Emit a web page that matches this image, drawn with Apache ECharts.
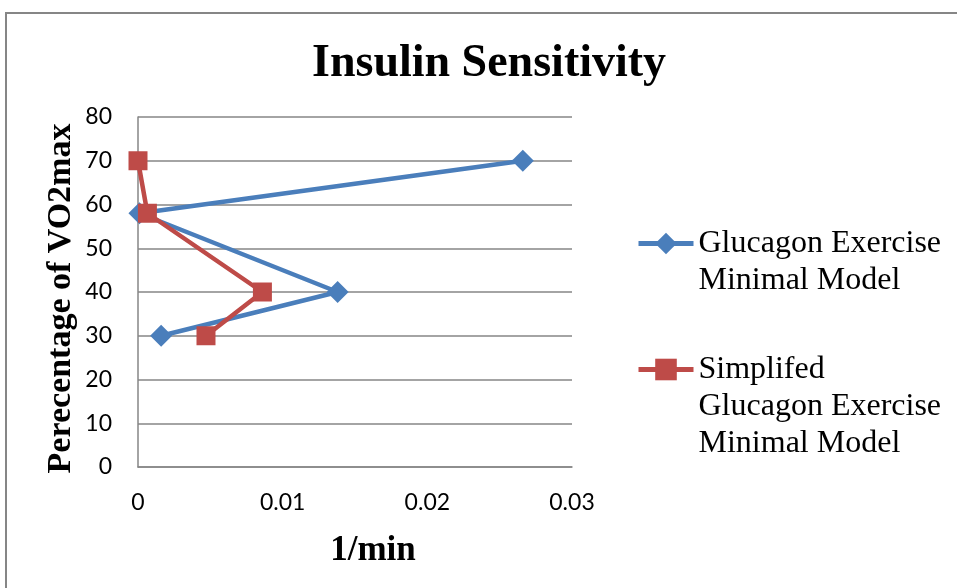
<!DOCTYPE html>
<html>
<head>
<meta charset="utf-8">
<script src="https://cdn.jsdelivr.net/npm/echarts@6/dist/echarts.min.js"></script>
<style>
  html, body { margin: 0; padding: 0; background: #ffffff; }
  #chart { width: 957px; height: 588px; }
</style>
</head>
<body>
<div id="chart"></div>
<script>
// Percentage of VO2max levels (y) and insulin sensitivity in 1/min (x)
const vo2Levels = [70, 58, 40, 30];
const fullModel = [0.0266, 0.0001, 0.0138, 0.0016];
const simplifiedModel = [0.0, 0.00065, 0.0086, 0.0047];

const seriesNames = [
  'Glucagon Exercise Minimal Model',
  'Simplifed Glucagon Exercise Minimal Model'
];
// Legend wording, one entry per text line
const legendLines = [
  ['Glucagon Exercise', 'Minimal Model'],
  ['Simplifed', 'Glucagon Exercise', 'Minimal Model']
];
const xTicks = { min: 0, max: 0.03, step: 0.01 };
const yTicks = { min: 0, max: 80, step: 10 };

const pairs = (xs, ys) => xs.map((x, i) => [x, ys[i]]);

const serif = '"Liberation Serif", "DejaVu Serif", serif';
const sans = 'Lato, "Open Sans", sans-serif';
const gray = '#868686';
const blue = '#4A7EBB';
const red = '#BE4B48';

const chart = echarts.init(document.getElementById('chart'), null, { renderer: 'canvas' });

// The legend icon sits at the vertical middle of its label, so blank lines
// are put above the label to line the icon up with its first text line.
function legendLabel(lines) {
  return '\n'.repeat(lines.length - 1) + lines.join('\n');
}

const legendBase = {
  orient: 'vertical',
  left: 636,
  padding: 0,
  itemWidth: 55,
  itemHeight: 27,
  selectedMode: false,
  lineStyle: { width: 5 },
  textStyle: { fontFamily: serif, fontSize: 32, lineHeight: 37, color: '#000' }
};

chart.setOption({
  backgroundColor: '#ffffff',
  animation: false,
  title: {
    text: 'Insulin Sensitivity',
    left: 307,
    top: 36,
    textStyle: { fontFamily: serif, fontWeight: 'bold', fontSize: 46, color: '#000' }
  },
  graphic: [{
    type: 'polyline',
    shape: { points: [[6, 588], [6, 13], [957, 13]] },
    style: { stroke: gray, lineWidth: 2, fill: null },
    silent: true
  }],
  legend: [
    Object.assign({}, legendBase, {
      top: 188,
      data: [{ name: seriesNames[0] }],
      formatter: () => legendLabel(legendLines[0])
    }),
    Object.assign({}, legendBase, {
      top: 277,
      data: [{ name: seriesNames[1] }],
      formatter: () => legendLabel(legendLines[1])
    })
  ],
  grid: { left: 138, top: 117, right: 385, bottom: 121, containLabel: false },
  xAxis: {
    type: 'value',
    min: xTicks.min,
    max: xTicks.max,
    interval: xTicks.step,
    name: '1/min',
    nameLocation: 'middle',
    nameGap: 66,
    nameTextStyle: { fontFamily: serif, fontWeight: 'bold', fontSize: 35, color: '#000', padding: [0, 0, 0, 36] },
    axisLine: { lineStyle: { color: gray, width: 1.5 } },
    axisTick: { show: false },
    splitLine: { show: false },
    axisLabel: { fontFamily: sans, fontSize: 23, color: '#000', margin: 24 }
  },
  yAxis: {
    type: 'value',
    min: yTicks.min,
    max: yTicks.max,
    interval: yTicks.step,
    name: 'Perecentage of VO2max',
    nameLocation: 'middle',
    nameGap: 60,
    nameTextStyle: { fontFamily: serif, fontWeight: 'bold', fontSize: 34, color: '#000', padding: [0, 13, 0, 0] },
    axisLine: { show: true, lineStyle: { color: gray, width: 1.5 } },
    axisTick: { show: false },
    splitLine: { lineStyle: { color: gray, width: 1.5 } },
    axisLabel: { fontFamily: sans, fontSize: 23, color: '#000', margin: 26 }
  },
  series: [
    {
      name: seriesNames[0],
      type: 'line',
      data: pairs(fullModel, vo2Levels),
      symbol: 'diamond',
      symbolSize: 22,
      itemStyle: { color: blue },
      lineStyle: { color: blue, width: 4.5 },
      z: 2
    },
    {
      name: seriesNames[1],
      type: 'line',
      data: pairs(simplifiedModel, vo2Levels),
      symbol: 'rect',
      symbolSize: 19,
      itemStyle: { color: red },
      lineStyle: { color: red, width: 4.5 },
      z: 3
    }
  ]
});
</script>
</body>
</html>
